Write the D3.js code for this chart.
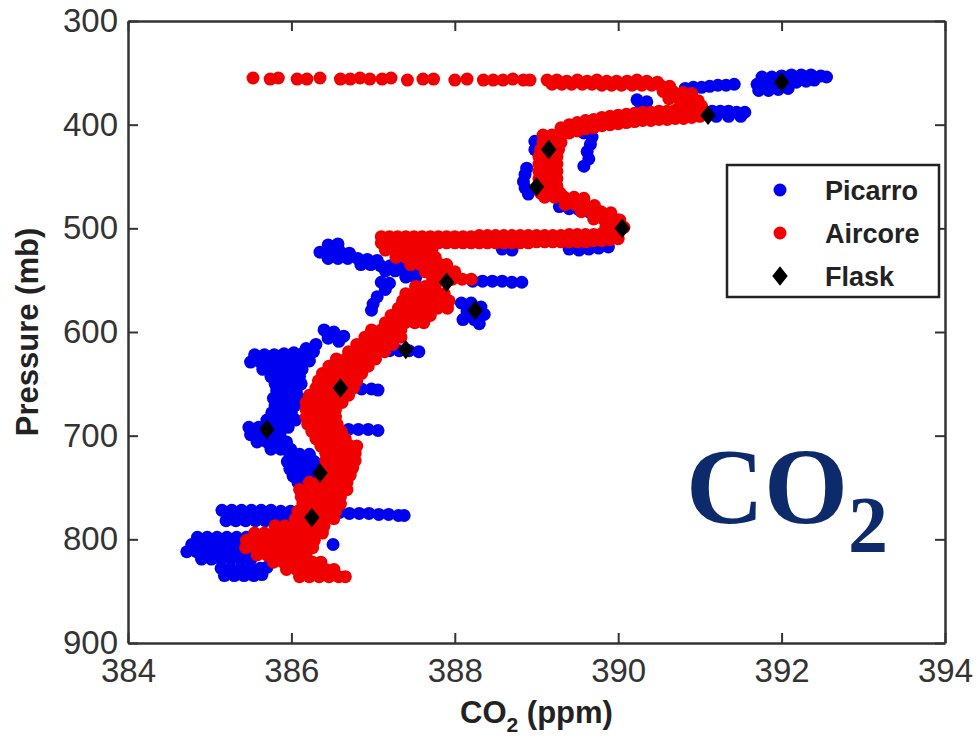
<!DOCTYPE html>
<html>
<head>
<meta charset="utf-8">
<script src="https://cdn.jsdelivr.net/npm/d3@7"></script>
<style>
  body { margin: 0; background: #fff; }
  .tick text { font-family: "Liberation Sans", Arial, sans-serif; fill: #333; }
</style>
</head>
<body>
<div id="chart"></div>
<script>
// axis ticks
const xTicks = [384, 386, 388, 390, 392, 394];
const yTicks = [300, 400, 500, 600, 700, 800, 900];
const seriesNames = ["Picarro", "Aircore", "Flask"];

// Picarro [CO2 ppm, pressure mb]
const picarro = [
  [390.82,365],[390.92,364],[391.02,364],[391.12,363],[391.22,362],[391.32,362],[391.42,361],
  [391.76,354],[391.88,354],[392.00,353],[392.12,352],[392.24,352],[392.36,352],[392.48,353],[392.55,354],
  [391.70,361],[391.82,361],[391.94,360],[392.06,360],[392.18,359],[392.30,358],[392.40,357],
  [391.72,367],[391.84,367],[391.96,366],[392.08,365],
  [391.15,387],[391.25,387],[391.35,387],[391.45,388],[391.55,388],[391.20,392],[391.35,392],[391.50,392],
  [390.23,376],[390.35,378],[390.28,381],
  [388.98,416],[388.98,424],
  [389.58,408],[389.68,412],[389.66,419],[389.62,426],[389.64,433],[389.58,440],
  [388.88,442],[388.86,448],[388.84,455],[388.86,461],[388.90,467],
  [389.28,479],[389.40,481],[389.52,482],[389.64,484],[389.76,487],[389.88,489],[390.00,492],
  [388.58,520],[388.70,521],[389.40,520],[389.52,521],[389.64,520],[389.76,519],[389.88,518],
  [386.45,516],[386.57,515],[386.35,523],[386.47,523],[386.59,522],[386.71,524],
  [386.45,529],[386.57,529],[386.69,529],[386.81,529],[386.93,530],[387.05,531],
  [386.85,535],[386.97,535],[387.09,536],[387.21,536],[387.33,537],
  [387.15,541],[387.27,541],[387.39,542],[387.51,543],[387.40,547],[387.52,548],
  [387.20,553],[387.10,552],[387.15,559],[387.05,566],[387.00,573],[386.98,579],
  [388.22,551],[388.34,551],[388.46,551],[388.58,551],[388.70,552],[388.82,552],
  [388.08,572],[388.20,572],[388.32,576],[388.36,583],[388.24,588],[388.10,588],[388.30,592],[388.15,580],
  [386.40,598],[386.52,600],[386.64,604],[386.45,606],[386.58,609],[386.30,612],[386.18,616],
  [385.55,622],[385.67,622],[385.79,622],[385.91,621],[386.03,620],[386.15,620],[386.27,619],
  [385.50,629],[385.62,629],[385.74,629],[385.86,629],[385.98,628],[386.10,628],[386.22,628],
  [385.65,636],[385.77,636],[385.89,636],[386.01,636],[386.13,636],
  [385.75,643],[385.87,643],[385.99,643],[386.10,643],[385.80,650],[385.92,650],[386.04,650],[386.12,650],
  [385.82,657],[385.94,657],[386.06,657],[385.78,664],[385.90,664],[386.02,664],[386.10,664],
  [385.80,671],[385.92,671],[386.04,671],[385.76,678],[385.88,678],[386.00,678],
  [385.70,685],[385.82,685],[385.94,685],[386.05,685],
  [385.48,692],[385.60,692],[385.72,692],[385.84,692],[385.96,692],
  [385.50,699],[385.62,699],[385.74,699],[385.86,699],
  [385.58,706],[385.70,706],[385.82,706],[385.94,706],[385.75,713],[385.87,713],[385.99,713],
  [385.98,718],[386.10,718],[386.22,718],[385.95,725],[386.07,725],[386.19,725],[386.28,725],
  [385.98,732],[386.10,732],[386.22,732],[386.30,732],[386.02,739],[386.14,739],[386.26,739],
  [386.08,745],[386.20,745],
  [386.86,655],[386.98,655],[387.06,656],
  [386.70,694],[386.82,694],[386.94,694],[387.06,695],
  [387.20,618],[387.32,618],[387.44,618],[387.56,619],
  [385.15,772],[385.27,772],[385.39,772],[385.51,772],[385.63,772],[385.75,772],[385.87,773],
  [385.99,773],[386.11,773],[386.23,773],[386.35,774],[386.47,774],[386.59,774],[386.71,775],
  [386.83,775],[386.95,775],[387.07,776],[387.19,776],[387.31,777],[387.38,777],
  [385.20,782],[385.32,782],[385.44,782],[385.56,782],[385.68,782],[385.80,782],[385.92,782],
  [384.85,798],[384.97,798],[385.09,798],[385.21,798],[385.33,798],[385.45,798],
  [384.78,805],[384.90,805],[385.02,805],[385.14,805],[385.26,805],[385.38,805],
  [384.72,812],[384.84,812],[384.96,812],[385.08,812],[385.20,812],[385.32,812],[385.44,812],
  [384.90,819],[385.02,819],[385.14,819],[385.26,819],[385.38,819],[385.50,820],
  [385.14,828],[385.26,828],[385.38,828],[385.50,828],[385.62,828],[385.70,827],
  [385.18,835],[385.30,835],[385.42,835],[385.54,835],[385.64,834],
  [386.51,805]
];

// Aircore [CO2 ppm, pressure mb]
const aircore = [
  [385.53,355],[385.74,356],[385.84,355],[386.07,356],[386.19,356],[386.35,355],[386.60,356],[386.72,356],
  [386.84,355],[386.96,356],[387.11,356],[387.22,355],[387.42,357],[387.61,356],[387.74,356],[388.00,357],
  [388.15,356],[388.35,357],[388.47,357],[388.59,357],[388.71,356],[388.84,357],[388.92,357],[389.13,357],[389.25,357],
  [389.37,358],[389.50,357],[389.62,358],[389.74,357],[389.86,358],[389.98,358],[390.11,358],[390.23,357],
  [390.35,358],[390.48,359],
  [389.19,361],[389.31,361],[389.43,361],[389.56,361],[389.68,361],[389.80,362],[389.92,362],[390.04,362],
  [390.17,362],[390.29,362],[390.41,362],[390.53,363],[390.63,363],
  [390.55,368],[390.67,368],[390.79,369],[390.90,370],
  [390.62,375],[390.74,375],[390.86,376],[390.98,377],
  [390.80,381],[390.92,381],[391.02,382],
  [391.00,384],[390.90,385],[390.80,386],[390.70,386],[390.60,387],[390.50,387],[390.40,388],[390.30,388],
  [390.20,389],[390.10,390],[390.00,391],[389.90,392],[389.80,393],[389.70,395],[389.60,396],[389.50,398],
  [389.40,400],[389.30,403],
  [391.00,392],[390.90,393],[390.80,394],[390.70,394],[390.60,395],[390.50,395],[390.40,396],[390.30,396],
  [390.20,397],[390.10,398],[390.00,399],[389.90,400],[389.80,401],[389.70,403],[389.60,404],[389.50,406],
  [389.40,408],[389.30,411],
  [389.08,410],[389.19,410],[389.30,410],[389.08,417],[389.19,417],[389.30,417],
  [389.05,424],[389.16,424],[389.27,424],[389.03,431],[389.14,431],[389.25,431],
  [389.03,438],[389.14,438],[389.25,438],[389.03,445],[389.14,445],[389.25,445],
  [389.03,452],[389.14,452],[389.25,452],[389.03,459],[389.14,459],[389.25,459],
  [389.05,466],[389.17,466],[389.29,466],
  [389.10,470],[389.22,470],[389.34,470],[389.46,470],[389.58,471],
  [389.35,477],[389.47,477],[389.59,477],[389.71,478],
  [389.55,484],[389.67,484],[389.79,484],[389.91,485],
  [389.70,491],[389.82,491],[389.94,491],[390.02,492],
  [389.85,498],[389.97,498],[390.07,499],
  [387.10,508],[387.20,508],[387.30,508],[387.40,508],[387.50,508],[387.60,508],[387.70,508],[387.80,508],
  [387.90,508],[388.00,508],[388.10,508],[388.20,508],[388.30,507],[388.40,507],[388.50,507],[388.60,507],
  [388.70,507],[388.80,507],[388.90,507],[389.00,507],[389.10,507],[389.20,507],[389.30,507],[389.40,506],
  [389.50,506],[389.60,506],[389.70,506],[389.80,505],[389.90,505],[390.00,504],
  [387.10,514],[387.20,514],[387.30,514],[387.40,514],[387.50,514],[387.60,514],[387.70,514],[387.80,514],
  [387.90,514],[388.00,514],[388.10,514],[388.20,514],[388.30,514],[388.40,514],[388.50,514],[388.60,514],
  [388.70,514],[388.80,514],[388.90,514],[389.00,513],[389.10,513],[389.20,513],[389.30,513],[389.40,513],
  [389.50,513],[389.60,513],[389.70,512],[389.80,512],[389.90,511],[390.00,510],
  [387.15,521],[387.27,521],[387.39,521],[387.51,521],[387.63,521],[387.72,521],
  [387.28,528],[387.40,528],[387.52,528],[387.64,528],[387.76,528],
  [387.46,535],[387.58,535],[387.70,535],[387.82,535],[387.90,535],
  [387.64,542],[387.76,542],[387.88,542],[388.00,542],
  [387.73,549],[387.85,549],[387.97,549],[388.09,549],[388.20,549],
  [387.52,556],[387.64,556],[387.76,556],
  [387.40,563],[387.52,563],[387.64,563],[387.76,563],[387.87,563],
  [387.36,570],[387.48,570],[387.60,570],[387.72,570],[387.84,570],[387.93,570],
  [387.31,577],[387.43,577],[387.55,577],[387.67,577],[387.79,577],[387.91,577],
  [387.22,584],[387.34,584],[387.46,584],[387.58,584],[387.70,584],
  [387.15,591],[387.27,591],[387.39,591],[387.51,591],[387.62,591],
  [386.98,598],[387.10,598],[387.22,598],[387.34,598],
  [386.90,605],[387.02,605],[387.14,605],[387.26,605],[387.34,605],
  [386.80,612],[386.92,612],[387.04,612],[387.16,612],[387.24,612],
  [386.70,619],[386.82,619],[386.94,619],[387.06,619],[387.14,619],
  [386.55,626],[386.67,626],[386.79,626],[386.91,626],[387.03,626],
  [386.46,633],[386.58,633],[386.70,633],[386.82,633],[386.94,633],
  [386.38,640],[386.50,640],[386.62,640],[386.74,640],[386.86,640],
  [386.33,647],[386.45,647],[386.57,647],[386.69,647],[386.80,647],
  [386.30,654],[386.42,654],[386.54,654],[386.66,654],[386.76,654],
  [386.22,661],[386.34,661],[386.46,661],[386.58,661],[386.70,661],
  [386.18,668],[386.30,668],[386.42,668],[386.54,668],[386.62,668],
  [386.18,675],[386.30,675],[386.42,675],[386.54,675],
  [386.18,682],[386.30,682],[386.42,682],[386.54,682],
  [386.20,689],[386.32,689],[386.44,689],[386.56,689],
  [386.25,696],[386.37,696],[386.49,696],[386.61,696],
  [386.30,703],[386.42,703],[386.54,703],[386.66,703],
  [386.36,710],[386.48,710],[386.60,710],[386.72,710],[386.80,710],
  [386.42,717],[386.54,717],[386.66,717],[386.78,717],
  [386.42,724],[386.54,724],[386.66,724],[386.78,724],
  [386.42,731],[386.54,731],[386.66,731],[386.75,731],
  [386.40,738],[386.52,738],[386.64,738],[386.72,738],
  [386.22,745],[386.34,745],[386.46,745],[386.58,745],[386.68,745],
  [386.10,752],[386.22,752],[386.34,752],[386.46,752],[386.58,752],[386.68,752],
  [386.12,759],[386.24,759],[386.36,759],[386.48,759],[386.60,759],
  [386.14,766],[386.26,766],[386.38,766],[386.50,766],[386.60,766],
  [386.08,773],[386.20,773],[386.32,773],[386.44,773],[386.54,773],
  [386.05,780],[386.17,780],[386.29,780],[386.41,780],[386.52,780],
  [385.80,787],[385.92,787],[386.04,787],[386.16,787],[386.28,787],[386.40,787],
  [385.55,794],[385.67,794],[385.79,794],[385.91,794],[386.03,794],[386.15,794],[386.27,794],[386.38,794],
  [385.45,801],[385.57,801],[385.69,801],[385.81,801],[385.93,801],[386.05,801],[386.17,801],[386.28,801],
  [385.44,808],[385.56,808],[385.68,808],[385.80,808],[385.92,808],[386.04,808],[386.16,808],[386.26,808],
  [385.58,815],[385.70,815],[385.82,815],[385.94,815],[386.06,815],[386.18,815],
  [385.78,822],[385.90,822],[386.02,822],[386.14,822],[386.26,822],[386.36,822],
  [385.94,829],[386.06,829],[386.18,829],[386.30,829],[386.42,829],[386.52,829],
  [386.10,836],[386.22,836],[386.34,836],[386.46,836],[386.58,836],[386.66,836]
];

// Flask [CO2 ppm, pressure mb]
const flask = [
  [392.0,359],[391.1,391],[389.15,424],[389.0,460],[390.05,500],[387.9,552],
  [388.25,579],[387.4,617],[386.6,654],[385.7,694],[386.35,736],[386.25,779]
];

const width = 979, height = 738;
const margin = {top: 21, right: 34, bottom: 95, left: 128};

const x = d3.scaleLinear().domain([384, 394]).range([margin.left, width - margin.right]);
const y = d3.scaleLinear().domain([300, 900]).range([margin.top, height - margin.bottom]);

const svg = d3.select("#chart").append("svg").attr("width", width).attr("height", height);

// data
svg.append("g").selectAll("circle").data(picarro).join("circle")
  .attr("cx", d => x(d[0])).attr("cy", d => y(d[1])).attr("r", 6.5)
  .attr("fill", "#0000f0");

svg.append("g").selectAll("circle").data(aircore).join("circle")
  .attr("cx", d => x(d[0])).attr("cy", d => y(d[1])).attr("r", 6.5)
  .attr("fill", "#f00000");

// matlab style diamond, a bit wider than d3's
const wideDiamond = {
  draw(ctx, size) {
    const h = Math.sqrt(size / 1.6), w = h * 0.8;
    ctx.moveTo(0, -h); ctx.lineTo(w, 0); ctx.lineTo(0, h); ctx.lineTo(-w, 0); ctx.closePath();
  }
};
const diamond = d3.symbol().type(wideDiamond).size(150);
svg.append("g").selectAll("path").data(flask).join("path")
  .attr("transform", d => `translate(${x(d[0])},${y(d[1])})`)
  .attr("d", diamond).attr("fill", "#000");

// axes (inward ticks, box on)
const axisStyle = g => {
  g.select(".domain").attr("stroke", "#333").attr("stroke-width", 2.5);
  g.selectAll(".tick line").attr("stroke", "#333").attr("stroke-width", 2);
  g.selectAll(".tick text").attr("font-size", 33);
};
svg.append("g").attr("transform", `translate(0,${y(900)})`)
  .call(d3.axisBottom(x).tickValues(xTicks).tickSize(-10).tickSizeOuter(0).tickPadding(16))
  .call(axisStyle);
svg.append("g").attr("transform", `translate(${x(384)},0)`)
  .call(d3.axisLeft(y).tickValues(yTicks).tickSize(-10).tickSizeOuter(0).tickPadding(10))
  .call(axisStyle);
svg.append("g").attr("transform", `translate(0,${y(300)})`)
  .call(d3.axisTop(x).tickValues(xTicks).tickSize(-10).tickSizeOuter(0).tickFormat(""))
  .call(axisStyle);
svg.append("g").attr("transform", `translate(${x(394)},0)`)
  .call(d3.axisRight(y).tickValues(yTicks).tickSize(-10).tickSizeOuter(0).tickFormat(""))
  .call(axisStyle);

// axis labels
const xl = svg.append("text")
  .attr("x", (x(384) + x(394)) / 2).attr("y", 723)
  .attr("text-anchor", "middle")
  .attr("font-family", "Liberation Sans, Arial, sans-serif")
  .attr("font-weight", "bold").attr("font-size", 31).attr("fill", "#222");
xl.append("tspan").text("CO");
xl.append("tspan").text("2").attr("font-size", 21).attr("dy", 9);
xl.append("tspan").text(" (ppm)").attr("dy", -9);

svg.append("text")
  .attr("transform", `translate(38,${(y(300) + y(900)) / 2}) rotate(-90)`)
  .attr("text-anchor", "middle")
  .attr("font-family", "Liberation Sans, Arial, sans-serif")
  .attr("font-weight", "bold").attr("font-size", 31).attr("fill", "#222")
  .text("Pressure (mb)");

// legend
const legend = svg.append("g").attr("transform", "translate(727,165)");
legend.append("rect").attr("width", 212).attr("height", 132)
  .attr("fill", "#fff").attr("stroke", "#222").attr("stroke-width", 2.5);
const legendColors = ["#0000f0", "#f00000", "#000"];
seriesNames.forEach((name, i) => {
  const cy = 25 + i * 43;
  if (i < 2) {
    legend.append("circle").attr("cx", 53).attr("cy", cy).attr("r", 6.5).attr("fill", legendColors[i]);
  } else {
    legend.append("path").attr("transform", `translate(53,${cy})`).attr("d", diamond).attr("fill", "#000");
  }
  legend.append("text").attr("x", 98).attr("y", cy + 10)
    .attr("font-family", "Liberation Sans, Arial, sans-serif")
    .attr("font-weight", "bold").attr("font-size", 27).attr("fill", "#222")
    .text(name);
});

// big CO2 annotation
const big = svg.append("text").attr("x", 686).attr("y", 523)
  .attr("font-family", "Liberation Serif, 'Times New Roman', serif")
  .attr("font-weight", "bold").attr("font-size", 108).attr("fill", "#0d2a6b");
big.append("tspan").text("CO");
big.append("tspan").text("2").attr("font-size", 80).attr("dy", 29);
</script>
</body>
</html>
